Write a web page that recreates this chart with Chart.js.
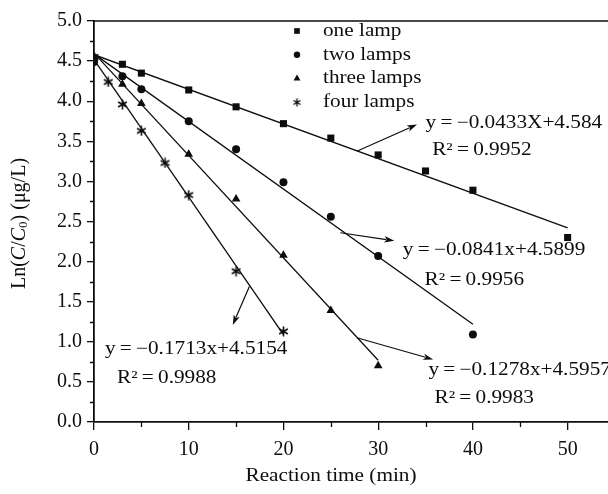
<!DOCTYPE html>
<html>
<head>
<meta charset="utf-8">
<script src="https://cdn.jsdelivr.net/npm/chart.js@4.4.0/dist/chart.umd.min.js"></script>
<style>
  html, body { margin: 0; padding: 0; background: #fff; overflow: hidden; }
  #chart { display: block; }
</style>
</head>
<body>
<canvas id="chart" width="620" height="494"></canvas>
<script>
// ---- data ----
var seriesNames = ["one lamp", "two lamps", "three lamps", "four lamps"];

var timeOne   = [0, 3, 5, 10, 15, 20, 25, 30, 35, 40, 50];
var lnOne     = [4.54, 4.46, 4.35, 4.14, 3.93, 3.72, 3.54, 3.33, 3.13, 2.89, 2.30];
var timeTwo   = [0, 3, 5, 10, 15, 20, 25, 30, 40];
var lnTwo     = [4.49, 4.31, 4.15, 3.75, 3.40, 2.99, 2.56, 2.07, 1.09];
var timeThree = [0, 3, 5, 10, 15, 20, 25, 30];
var lnThree   = [4.55, 4.21, 3.97, 3.34, 2.78, 2.08, 1.39, 0.70];
var timeFour  = [0, 1.5, 3, 5, 7.5, 10, 15, 20];
var lnFour    = [4.55, 4.24, 3.96, 3.63, 3.23, 2.83, 1.88, 1.13];

// fitted lines: start / end as drawn
var fitX = [[0, 50], [0, 40], [0, 30], [0, 20]];
var fitY = [[4.58, 2.42], [4.59, 1.22], [4.60, 0.77], [4.52, 1.09]];

// equation labels
var eqText = ["y\u2009=\u2009\u22120.0433X+4.584", "y\u2009=\u2009\u22120.0841x+4.5899",
              "y\u2009=\u2009\u22120.1278x+4.5957", "y\u2009=\u2009\u22120.1713x+4.5154"];
var r2Text = ["R\u00B2\u2009=\u20090.9952", "R\u00B2\u2009=\u20090.9956",
              "R\u00B2\u2009=\u20090.9983", "R\u00B2\u2009=\u20090.9988"];
// label anchors in data units [x, y]
var eqPos = [[35.0, 3.72], [32.6, 2.14], [35.3, 0.65], [1.15, 0.91]];
var r2Pos = [[35.7, 3.39], [34.9, 1.77], [35.95, 0.30], [2.43, 0.54]];
// arrows: tail -> head, data units
var arrowTail = [[27.8, 3.38], [26.0, 2.36], [27.75, 1.05], [16.4, 1.69]];
var arrowHead = [[34.1, 3.71], [31.7, 2.26], [35.8, 0.78], [14.65, 1.21]];

var serif = "'Liberation Serif', 'Times New Roman', serif";
var ink = "#0d0d0d";

function pts(xs, ys) {
    return xs.map(function (x, i) { return { x: x, y: ys[i] }; });
}

// six-armed asterisk marker
function makeStar(size, lw) {
    var c = document.createElement("canvas");
    c.width = c.height = size;
    var g = c.getContext("2d");
    var m = size / 2, r = size / 2 - 0.5;
    g.strokeStyle = ink;
    g.lineWidth = lw;
    g.beginPath();
    [90, 30, 150].forEach(function (a) {
        var rad = a * Math.PI / 180;
        g.moveTo(m + Math.cos(rad) * r, m - Math.sin(rad) * r);
        g.lineTo(m - Math.cos(rad) * r, m + Math.sin(rad) * r);
    });
    g.stroke();
    return c;
}
var star = makeStar(11, 1.6);
var starSmall = makeStar(9, 1.4);

var markerStyles = ["rect", "circle", "triangle", star];
var markerRadius = [5, 4, 5, 5];
var legendStyles = ["rect", "circle", "triangle", starSmall];

// stretched text, like the figure's lettering
function stretchText(ctx, str, x, y, size, align, sx) {
    ctx.save();
    ctx.translate(x, y);
    ctx.scale(sx || 1.18, 1);
    ctx.font = size + "px " + serif;
    ctx.textAlign = align || "left";
    ctx.textBaseline = "middle";
    ctx.fillStyle = ink;
    ctx.fillText(str, 0, 0);
    ctx.restore();
}

function arrow(ctx, x1, y1, x2, y2) {
    var ang = Math.atan2(y2 - y1, x2 - x1), len = 10, hw = 3.2;
    ctx.beginPath();
    ctx.moveTo(x1, y1);
    ctx.lineTo(x2 - Math.cos(ang) * len * 0.8, y2 - Math.sin(ang) * len * 0.8);
    ctx.stroke();
    ctx.beginPath();
    ctx.moveTo(x2, y2);
    ctx.lineTo(x2 - Math.cos(ang) * len - Math.sin(ang) * hw, y2 - Math.sin(ang) * len + Math.cos(ang) * hw);
    ctx.lineTo(x2 - Math.cos(ang) * len * 0.75, y2 - Math.sin(ang) * len * 0.75);
    ctx.lineTo(x2 - Math.cos(ang) * len + Math.sin(ang) * hw, y2 - Math.sin(ang) * len - Math.cos(ang) * hw);
    ctx.closePath();
    ctx.fill();
}

/****************** extra drawing: frame, minor ticks, arrows, labels, legend ******************/
var decor = {
    id: "decor",
    afterDraw: function (chart) {
        var ctx = chart.ctx, area = chart.chartArea;
        var xs = chart.scales.x, ys = chart.scales.y;
        ctx.save();
        ctx.strokeStyle = ink;
        ctx.fillStyle = ink;

        // top + right frame
        ctx.lineWidth = 1.6;
        ctx.beginPath();
        ctx.moveTo(area.left, area.top);
        ctx.lineTo(area.right, area.top);
        ctx.lineTo(area.right, area.bottom);
        ctx.stroke();

        // minor ticks
        ctx.lineWidth = 1.3;
        ctx.beginPath();
        for (var v = 5; v < 55; v += 10) {
            var px = Math.round(xs.getPixelForValue(v)) + 0.5;
            ctx.moveTo(px, area.bottom);
            ctx.lineTo(px, area.bottom + 5);
        }
        for (var w = 0.25; w < 5; w += 0.5) {
            var py = Math.round(ys.getPixelForValue(w)) + 0.5;
            ctx.moveTo(area.left, py);
            ctx.lineTo(area.left - 4, py);
        }
        ctx.stroke();

        // arrows
        ctx.lineWidth = 1.2;
        for (var i = 0; i < arrowTail.length; i++) {
            arrow(ctx, xs.getPixelForValue(arrowTail[i][0]), ys.getPixelForValue(arrowTail[i][1]),
                       xs.getPixelForValue(arrowHead[i][0]), ys.getPixelForValue(arrowHead[i][1]));
        }

        // equations
        for (var k = 0; k < eqText.length; k++) {
            stretchText(ctx, eqText[k], xs.getPixelForValue(eqPos[k][0]), ys.getPixelForValue(eqPos[k][1]), 18);
            stretchText(ctx, r2Text[k], xs.getPixelForValue(r2Pos[k][0]), ys.getPixelForValue(r2Pos[k][1]), 18);
        }

        // legend
        for (var n = 0; n < seriesNames.length; n++) {
            var ly = area.top + 10 + n * 23.8;
            Chart.helpers.drawPoint(ctx, {
                pointStyle: legendStyles[n], radius: markerRadius[n] * 0.8, borderWidth: 0, rotation: 0
            }, area.left + 203, ly);
            stretchText(ctx, seriesNames[n], area.left + 229, ly, 18);
        }

        // x axis title
        stretchText(ctx, "Reaction time (min)", 331, 476, 18, "center");

        // y axis title: Ln(C/C0) (μg/L) with italic C and subscript 0
        ctx.translate(20, (area.top + area.bottom) / 2 + 2);
        ctx.rotate(-Math.PI / 2);
        ctx.textBaseline = "middle";
        ctx.textAlign = "left";
        var parts = [
            ["Ln(", "", 20, 0], ["C", "italic ", 20, 0], ["/", "", 20, 0], ["C", "italic ", 20, 0],
            ["0", "", 13, 4], [") (\u03BCg/L)", "", 20, 0]
        ];
        var total = 0;
        parts.forEach(function (p) { ctx.font = p[1] + p[2] + "px " + serif; total += ctx.measureText(p[0]).width; });
        var cx = -total / 2;
        parts.forEach(function (p) {
            ctx.font = p[1] + p[2] + "px " + serif;
            ctx.fillText(p[0], cx, p[3]);
            cx += ctx.measureText(p[0]).width;
        });
        ctx.restore();
    }
};

var datasets = [];
var seriesX = [timeOne, timeTwo, timeThree, timeFour];
var seriesY = [lnOne, lnTwo, lnThree, lnFour];
for (var s = 0; s < 4; s++) {
    datasets.push({
        label: seriesNames[s] + " fit",
        data: pts(fitX[s], fitY[s]),
        showLine: true,
        borderColor: ink,
        borderWidth: 1.3,
        pointRadius: 0
    });
    datasets.push({
        label: seriesNames[s],
        data: pts(seriesX[s], seriesY[s]),
        showLine: false,
        pointStyle: markerStyles[s],
        pointRadius: markerRadius[s],
        backgroundColor: ink,
        borderColor: ink,
        borderWidth: 0
    });
}

var axisFont = { family: serif, size: 20 };

new Chart(document.getElementById("chart"), {
    type: "scatter",
    data: { datasets: datasets },
    options: {
        responsive: false,
        animation: false,
        devicePixelRatio: 1,
        layout: { padding: { top: 21, right: 5, left: 0, bottom: 0 } },
        plugins: { legend: { display: false }, tooltip: { enabled: false } },
        scales: {
            x: {
                type: "linear",
                min: 0, max: 55,
                afterFit: function (scale) { scale.height = 72; },
                ticks: { stepSize: 10, includeBounds: false, color: ink, font: axisFont, padding: 8, maxRotation: 0 },
                grid: { drawOnChartArea: false, tickLength: 8, color: ink, lineWidth: 1.3 },
                border: { color: ink, width: 1.8 }
            },
            y: {
                min: 0, max: 5,
                afterFit: function (scale) { scale.width = 94; },
                ticks: {
                    stepSize: 0.5, color: ink, font: axisFont, padding: 5,
                    callback: function (v) { return v.toFixed(1); }
                },
                grid: { drawOnChartArea: false, tickLength: 7, color: ink, lineWidth: 1.3 },
                border: { color: ink, width: 1.8 }
            }
        }
    },
    plugins: [decor]
});
</script>
</body>
</html>
